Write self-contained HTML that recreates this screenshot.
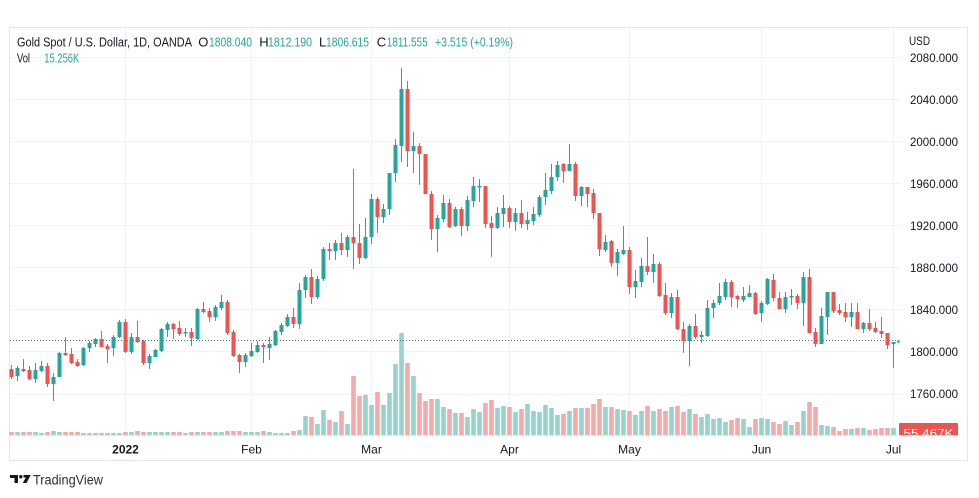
<!DOCTYPE html>
<html><head><meta charset="utf-8"><style>
html,body{margin:0;padding:0;background:#fff;}
svg{display:block;font-family:"Liberation Sans",Arial,sans-serif;}
</style></head><body>
<svg width="979" height="498" viewBox="0 0 979 498" xmlns="http://www.w3.org/2000/svg">
<defs><clipPath id="pane"><rect x="0" y="0" width="979" height="435"/></clipPath></defs>
<rect x="0" y="0" width="979" height="498" fill="#fff"/>
<!-- frame -->
<rect x="9.5" y="27.5" width="958" height="433" fill="none" stroke="#e3e5ea" stroke-width="1"/>
<!-- horizontal grid -->
<g stroke="#f0f3fa" stroke-width="1">
<line x1="10" y1="57.5" x2="901" y2="57.5"/>
<line x1="10" y1="99.5" x2="901" y2="99.5"/>
<line x1="10" y1="141.5" x2="901" y2="141.5"/>
<line x1="10" y1="183.5" x2="901" y2="183.5"/>
<line x1="10" y1="225.5" x2="901" y2="225.5"/>
<line x1="10" y1="267.5" x2="901" y2="267.5"/>
<line x1="10" y1="309.5" x2="901" y2="309.5"/>
<line x1="10" y1="351.5" x2="901" y2="351.5"/>
<line x1="10" y1="394.5" x2="901" y2="394.5"/>
<line x1="125.5" y1="28" x2="125.5" y2="435"/>
<line x1="251.5" y1="28" x2="251.5" y2="435"/>
<line x1="371.5" y1="28" x2="371.5" y2="435"/>
<line x1="509.5" y1="28" x2="509.5" y2="435"/>
<line x1="629.5" y1="28" x2="629.5" y2="435"/>
<line x1="761.5" y1="28" x2="761.5" y2="435"/>
<line x1="893.5" y1="28" x2="893.5" y2="435"/>
</g>
<!-- time axis line -->
<line x1="10" y1="435.5" x2="958" y2="435.5" stroke="#e6e8ee" stroke-width="1"/>

<!-- volumes -->
<path fill="#97d3cd" d="M15.2 432h4.6V435h-4.6zM33.2 432h4.6V435h-4.6zM39.2 433h4.6V435h-4.6zM51.2 431h4.6V435h-4.6zM57.2 432h4.6V435h-4.6zM81.2 433h4.6V435h-4.6zM87.2 433h4.6V435h-4.6zM93.2 433h4.6V435h-4.6zM111.2 433h4.6V435h-4.6zM117.2 433h4.6V435h-4.6zM129.2 432h4.6V435h-4.6zM147.2 432h4.6V435h-4.6zM153.2 432h4.6V435h-4.6zM159.2 432h4.6V435h-4.6zM165.2 432h4.6V435h-4.6zM183.2 433h4.6V435h-4.6zM195.2 432h4.6V435h-4.6zM213.2 432h4.6V435h-4.6zM219.2 432h4.6V435h-4.6zM243.2 432h4.6V435h-4.6zM249.2 432h4.6V435h-4.6zM255.2 432h4.6V435h-4.6zM267.2 432h4.6V435h-4.6zM273.2 433h4.6V435h-4.6zM279.2 433h4.6V435h-4.6zM285.2 433h4.6V435h-4.6zM297.2 430h4.6V435h-4.6zM303.2 416h4.6V435h-4.6zM315.2 424h4.6V435h-4.6zM321.2 410h4.6V435h-4.6zM333.2 422h4.6V435h-4.6zM345.2 424h4.6V435h-4.6zM363.2 395h4.6V435h-4.6zM369.2 405h4.6V435h-4.6zM381.2 405h4.6V435h-4.6zM387.2 393h4.6V435h-4.6zM393.2 364h4.6V435h-4.6zM399.2 333h4.6V435h-4.6zM411.2 376h4.6V435h-4.6zM435.2 399h4.6V435h-4.6zM441.2 407h4.6V435h-4.6zM453.2 413h4.6V435h-4.6zM465.2 417h4.6V435h-4.6zM471.2 409h4.6V435h-4.6zM477.2 412h4.6V435h-4.6zM495.2 408h4.6V435h-4.6zM501.2 406h4.6V435h-4.6zM513.2 412h4.6V435h-4.6zM525.2 404h4.6V435h-4.6zM531.2 411h4.6V435h-4.6zM537.2 412h4.6V435h-4.6zM543.2 405h4.6V435h-4.6zM549.2 408h4.6V435h-4.6zM555.2 415h4.6V435h-4.6zM567.2 411h4.6V435h-4.6zM579.2 408h4.6V435h-4.6zM603.2 407h4.6V435h-4.6zM615.2 409h4.6V435h-4.6zM621.2 410h4.6V435h-4.6zM633.2 415h4.6V435h-4.6zM639.2 411h4.6V435h-4.6zM651.2 411h4.6V435h-4.6zM669.2 407h4.6V435h-4.6zM687.2 409h4.6V435h-4.6zM699.2 417h4.6V435h-4.6zM705.2 414h4.6V435h-4.6zM711.2 419h4.6V435h-4.6zM717.2 418h4.6V435h-4.6zM723.2 422h4.6V435h-4.6zM741.2 419h4.6V435h-4.6zM747.2 427h4.6V435h-4.6zM759.2 418h4.6V435h-4.6zM765.2 419h4.6V435h-4.6zM783.2 421h4.6V435h-4.6zM789.2 425h4.6V435h-4.6zM801.2 411h4.6V435h-4.6zM819.2 425h4.6V435h-4.6zM825.2 426h4.6V435h-4.6zM849.2 429h4.6V435h-4.6zM861.2 428h4.6V435h-4.6zM891.2 428h4.6V435h-4.6z"/>
<path fill="#f4aaa8" d="M9.2 432h4.6V435h-4.6zM21.2 432h4.6V435h-4.6zM27.2 432h4.6V435h-4.6zM45.2 432h4.6V435h-4.6zM63.2 432h4.6V435h-4.6zM69.2 432h4.6V435h-4.6zM75.2 432h4.6V435h-4.6zM99.2 433h4.6V435h-4.6zM105.2 433h4.6V435h-4.6zM123.2 432h4.6V435h-4.6zM135.2 431h4.6V435h-4.6zM141.2 432h4.6V435h-4.6zM171.2 432h4.6V435h-4.6zM177.2 432h4.6V435h-4.6zM189.2 432h4.6V435h-4.6zM201.2 432h4.6V435h-4.6zM207.2 432h4.6V435h-4.6zM225.2 431h4.6V435h-4.6zM231.2 431h4.6V435h-4.6zM237.2 431h4.6V435h-4.6zM261.2 431h4.6V435h-4.6zM291.2 431h4.6V435h-4.6zM309.2 417h4.6V435h-4.6zM327.2 420h4.6V435h-4.6zM339.2 411h4.6V435h-4.6zM351.2 376h4.6V435h-4.6zM357.2 396h4.6V435h-4.6zM375.2 392h4.6V435h-4.6zM405.2 363h4.6V435h-4.6zM417.2 393h4.6V435h-4.6zM423.2 401h4.6V435h-4.6zM429.2 399h4.6V435h-4.6zM447.2 409h4.6V435h-4.6zM459.2 413h4.6V435h-4.6zM483.2 403h4.6V435h-4.6zM489.2 400h4.6V435h-4.6zM507.2 407h4.6V435h-4.6zM519.2 409h4.6V435h-4.6zM561.2 414h4.6V435h-4.6zM573.2 408h4.6V435h-4.6zM585.2 408h4.6V435h-4.6zM591.2 404h4.6V435h-4.6zM597.2 399h4.6V435h-4.6zM609.2 407h4.6V435h-4.6zM627.2 411h4.6V435h-4.6zM645.2 406h4.6V435h-4.6zM657.2 409h4.6V435h-4.6zM663.2 411h4.6V435h-4.6zM675.2 406h4.6V435h-4.6zM681.2 412h4.6V435h-4.6zM693.2 414h4.6V435h-4.6zM729.2 420h4.6V435h-4.6zM735.2 418h4.6V435h-4.6zM753.2 419h4.6V435h-4.6zM771.2 422h4.6V435h-4.6zM777.2 424h4.6V435h-4.6zM795.2 422h4.6V435h-4.6zM807.2 402h4.6V435h-4.6zM813.2 407h4.6V435h-4.6zM831.2 427h4.6V435h-4.6zM837.2 431h4.6V435h-4.6zM843.2 429h4.6V435h-4.6zM855.2 428h4.6V435h-4.6zM867.2 430h4.6V435h-4.6zM873.2 429h4.6V435h-4.6zM879.2 428h4.6V435h-4.6zM885.2 428h4.6V435h-4.6z"/>

<!-- last price dotted line -->
<line x1="10" y1="340.5" x2="899" y2="340.5" stroke="#4f6f6c" stroke-width="1" stroke-dasharray="1 2"/>

<!-- teal candles -->
<path fill="#26a69a" d="M17 366h1V381h-1zM35 363h1V383h-1zM41 361h1V372h-1zM53 373h1V401h-1zM59 352h1V377h-1zM83 347h1V366h-1zM89 341h1V352h-1zM95 338h1V347h-1zM113 335h1V356h-1zM119 320h1V338h-1zM131 333h1V354h-1zM149 354h1V369h-1zM155 349h1V357h-1zM161 328h1V352h-1zM167 322h1V337h-1zM185 328h1V337h-1zM197 308h1V340h-1zM215 305h1V321h-1zM221 295h1V310h-1zM245 353h1V367h-1zM251 343h1V357h-1zM257 341h1V353h-1zM269 337h1V360h-1zM275 330h1V346h-1zM281 323h1V335h-1zM287 314h1V327h-1zM299 283h1V329h-1zM305 275h1V298h-1zM317 276h1V299h-1zM323 247h1V281h-1zM335 240h1V260h-1zM347 235h1V257h-1zM365 218h1V259h-1zM371 194h1V244h-1zM383 204h1V223h-1zM389 173h1V215h-1zM395 139h1V182h-1zM401 68h1V162h-1zM413 132h1V173h-1zM437 215h1V252h-1zM443 195h1V222h-1zM455 207h1V227h-1zM467 196h1V231h-1zM473 177h1V207h-1zM479 179h1V202h-1zM497 207h1V229h-1zM503 195h1V227h-1zM515 208h1V231h-1zM527 212h1V230h-1zM533 207h1V225h-1zM539 195h1V217h-1zM545 173h1V205h-1zM551 164h1V194h-1zM557 161h1V181h-1zM569 144h1V171h-1zM581 186h1V206h-1zM605 235h1V252h-1zM617 249h1V276h-1zM623 226h1V255h-1zM635 270h1V298h-1zM641 258h1V287h-1zM653 254h1V283h-1zM671 293h1V318h-1zM689 324h1V366h-1zM701 331h1V343h-1zM707 300h1V337h-1zM713 300h1V318h-1zM719 283h1V305h-1zM725 279h1V300h-1zM743 287h1V302h-1zM749 285h1V297h-1zM761 301h1V322h-1zM767 278h1V305h-1zM785 292h1V313h-1zM791 289h1V305h-1zM803 272h1V326h-1zM821 308h1V344h-1zM827 292h1V335h-1zM851 303h1V327h-1zM863 322h1V333h-1zM893 342h1V368h-1z
M15.5 368h4V376h-4zM33.5 370h4V379h-4zM39.5 366h4V371h-4zM51.5 377h4V384h-4zM57.5 353h4V377h-4zM81.5 348h4V365h-4zM87.5 343h4V348h-4zM93.5 339h4V344h-4zM111.5 337h4V348h-4zM117.5 322h4V337h-4zM129.5 337h4V352h-4zM147.5 356h4V363h-4zM153.5 350h4V357h-4zM159.5 329h4V351h-4zM165.5 324h4V330h-4zM183.5 332h4V333.5h-4zM195.5 309h4V339h-4zM213.5 307h4V317h-4zM219.5 302h4V308h-4zM243.5 355h4V362h-4zM249.5 351h4V356h-4zM255.5 345h4V352h-4zM267.5 344h4V348h-4zM273.5 331h4V345h-4zM279.5 325h4V332h-4zM285.5 317h4V326h-4zM297.5 290h4V324h-4zM303.5 277h4V290h-4zM315.5 279h4V297h-4zM321.5 249h4V279h-4zM333.5 243h4V251h-4zM345.5 237h4V250h-4zM363.5 237h4V258h-4zM369.5 199h4V237h-4zM381.5 209h4V217h-4zM387.5 173h4V209h-4zM393.5 145h4V173h-4zM399.5 89h4V146h-4zM411.5 146h4V151h-4zM435.5 218h4V229h-4zM441.5 203h4V219h-4zM453.5 209h4V226h-4zM465.5 200h4V226h-4zM471.5 186h4V201h-4zM477.5 186h4V187.5h-4zM495.5 213h4V228h-4zM501.5 208h4V214h-4zM513.5 213h4V222h-4zM525.5 220h4V224h-4zM531.5 214h4V221h-4zM537.5 197h4V215h-4zM543.5 190h4V197h-4zM549.5 177h4V191h-4zM555.5 165h4V177h-4zM567.5 164h4V171h-4zM579.5 187h4V196h-4zM603.5 242h4V250h-4zM615.5 252h4V263h-4zM621.5 250h4V254h-4zM633.5 281h4V287h-4zM639.5 266h4V282h-4zM651.5 264h4V272h-4zM669.5 297h4V313h-4zM687.5 326h4V341h-4zM699.5 335h4V337h-4zM705.5 308h4V336h-4zM711.5 303h4V308h-4zM717.5 296h4V303h-4zM723.5 282h4V297h-4zM741.5 296h4V300h-4zM747.5 293h4V297h-4zM759.5 303h4V313h-4zM765.5 279h4V304h-4zM783.5 297h4V309h-4zM789.5 296h4V297.5h-4zM801.5 277h4V303h-4zM819.5 316h4V344h-4zM825.5 292h4V317h-4zM849.5 312h4V317h-4zM861.5 323h4V329h-4zM891.5 342h4V344h-4zM897.5 340h2V343h-2z"/>
<!-- red candles -->
<path fill="#ef5350" d="M11 365h1V379h-1zM23 359h1V372h-1zM29 366h1V380h-1zM47 363h1V387h-1zM65 337h1V356h-1zM71 348h1V364h-1zM77 359h1V367h-1zM101 331h1V347h-1zM107 344h1V363h-1zM125 319h1V353h-1zM137 321h1V343h-1zM143 340h1V365h-1zM173 323h1V339h-1zM179 321h1V336h-1zM191 328h1V346h-1zM203 302h1V313h-1zM209 308h1V322h-1zM227 300h1V335h-1zM233 330h1V357h-1zM239 354h1V373h-1zM263 343h1V363h-1zM293 308h1V328h-1zM311 269h1V304h-1zM329 243h1V260h-1zM341 233h1V255h-1zM353 169h1V269h-1zM359 224h1V264h-1zM377 197h1V233h-1zM407 81h1V167h-1zM419 143h1V185h-1zM425 154h1V194h-1zM431 191h1V240h-1zM449 199h1V228h-1zM461 207h1V236h-1zM485 186h1V228h-1zM491 216h1V257h-1zM509 206h1V228h-1zM521 200h1V228h-1zM563 163h1V183h-1zM575 162h1V201h-1zM587 187h1V207h-1zM593 189h1V219h-1zM599 213h1V256h-1zM611 240h1V267h-1zM629 247h1V294h-1zM647 237h1V275h-1zM659 262h1V297h-1zM665 283h1V315h-1zM677 290h1V330h-1zM683 322h1V353h-1zM695 314h1V339h-1zM731 280h1V307h-1zM737 295h1V308h-1zM755 292h1V315h-1zM773 274h1V301h-1zM779 292h1V309h-1zM797 294h1V309h-1zM809 269h1V333h-1zM815 328h1V347h-1zM833 292h1V313h-1zM839 304h1V315h-1zM845 303h1V322h-1zM857 303h1V329h-1zM869 309h1V331h-1zM875 322h1V333h-1zM881 317h1V338h-1zM887 333h1V349h-1z
M9.5 369h4V377h-4zM21.5 369h4V371h-4zM27.5 370h4V379h-4zM45.5 366h4V384h-4zM63.5 353h4V355h-4zM69.5 354h4V363h-4zM75.5 362h4V366h-4zM99.5 339h4V347h-4zM105.5 346h4V349h-4zM123.5 322h4V352h-4zM135.5 337h4V342h-4zM141.5 341h4V363h-4zM171.5 324h4V329h-4zM177.5 328h4V334h-4zM189.5 332h4V338h-4zM201.5 309h4V312h-4zM207.5 311h4V317h-4zM225.5 302h4V333h-4zM231.5 332h4V356h-4zM237.5 355h4V362h-4zM261.5 345h4V347h-4zM291.5 317h4V324h-4zM309.5 277h4V297h-4zM327.5 249h4V251h-4zM339.5 243h4V250h-4zM351.5 237h4V243h-4zM357.5 243h4V258h-4zM375.5 199h4V217h-4zM405.5 89h4V151h-4zM417.5 146h4V154h-4zM423.5 154h4V194h-4zM429.5 194h4V229h-4zM447.5 203h4V227h-4zM459.5 209h4V226h-4zM483.5 186h4V224h-4zM489.5 223h4V228h-4zM507.5 208h4V222h-4zM519.5 213h4V224h-4zM561.5 164h4V171h-4zM573.5 164h4V196h-4zM585.5 187h4V194h-4zM591.5 193h4V213h-4zM597.5 213h4V249h-4zM609.5 241h4V263h-4zM627.5 250h4V287h-4zM645.5 266h4V272h-4zM657.5 264h4V296h-4zM663.5 295h4V313h-4zM675.5 297h4V329h-4zM681.5 329h4V341h-4zM693.5 326h4V337h-4zM729.5 282h4V297h-4zM735.5 296h4V299h-4zM753.5 293h4V314h-4zM771.5 280h4V298h-4zM777.5 298h4V309h-4zM795.5 296h4V303h-4zM807.5 277h4V333h-4zM813.5 332h4V344h-4zM831.5 292h4V311h-4zM837.5 310h4V313h-4zM843.5 312h4V317h-4zM855.5 312h4V329h-4zM867.5 323h4V329h-4zM873.5 328h4V332h-4zM879.5 331h4V334h-4zM885.5 333h4V345h-4z"/>

<!-- header legend -->
<g font-size="13" fill="#131722">
<text x="17" y="46.7" textLength="175" lengthAdjust="spacingAndGlyphs">Gold Spot / U.S. Dollar, 1D, OANDA</text>
<text x="198.3" y="46.7">O</text>
<text x="209" y="46.7" fill="#26a69a" textLength="43" lengthAdjust="spacingAndGlyphs">1808.040</text>
<text x="259.3" y="46.7">H</text>
<text x="268" y="46.7" fill="#26a69a" textLength="44" lengthAdjust="spacingAndGlyphs">1812.190</text>
<text x="319" y="46.7">L</text>
<text x="326" y="46.7" fill="#26a69a" textLength="43" lengthAdjust="spacingAndGlyphs">1806.615</text>
<text x="376.7" y="46.7">C</text>
<text x="386.7" y="46.7" fill="#26a69a" textLength="41" lengthAdjust="spacingAndGlyphs">1811.555</text>
<text x="435" y="46.7" fill="#26a69a" textLength="78" lengthAdjust="spacingAndGlyphs">+3.515 (+0.19%)</text>
<text x="17" y="62.5" textLength="13" lengthAdjust="spacingAndGlyphs">Vol</text>
<text x="44.3" y="62.5" fill="#26a69a" textLength="35" lengthAdjust="spacingAndGlyphs">15.256K</text>
</g>

<!-- price axis -->
<g font-size="12" fill="#131722">
<text x="909" y="45" font-size="11.5" textLength="21" lengthAdjust="spacingAndGlyphs">USD</text>
<text x="910" y="62" textLength="48" lengthAdjust="spacingAndGlyphs">2080.000</text>
<text x="910" y="104" textLength="48" lengthAdjust="spacingAndGlyphs">2040.000</text>
<text x="910" y="146" textLength="48" lengthAdjust="spacingAndGlyphs">2000.000</text>
<text x="910" y="188" textLength="48" lengthAdjust="spacingAndGlyphs">1960.000</text>
<text x="910" y="230" textLength="48" lengthAdjust="spacingAndGlyphs">1920.000</text>
<text x="910" y="272" textLength="48" lengthAdjust="spacingAndGlyphs">1880.000</text>
<text x="910" y="314" textLength="48" lengthAdjust="spacingAndGlyphs">1840.000</text>
<text x="910" y="356" textLength="48" lengthAdjust="spacingAndGlyphs">1800.000</text>
<text x="910" y="398" textLength="48" lengthAdjust="spacingAndGlyphs">1760.000</text>
</g>
<!-- volume label -->
<g clip-path="url(#pane)">
<rect x="899" y="423" width="59" height="16" rx="1" fill="#ef5350"/>
<text x="928.5" y="437.5" font-size="12" fill="#fff" text-anchor="middle" textLength="50" lengthAdjust="spacingAndGlyphs">55.467K</text>
</g>

<!-- time axis labels -->
<g font-size="12" fill="#131722" text-anchor="middle">
<text x="125.5" y="453.5" font-weight="bold">2022</text>
<text x="251.5" y="453.5">Feb</text>
<text x="371.5" y="453.5">Mar</text>
<text x="509.5" y="453.5">Apr</text>
<text x="629.5" y="453.5">May</text>
<text x="761.5" y="453.5">Jun</text>
<text x="893.5" y="453.5">Jul</text>
</g>

<!-- TradingView logo -->
<g fill="#131722">
<rect x="10" y="475" width="8" height="3"/>
<rect x="14.5" y="475" width="3.5" height="8"/>
<circle cx="20.8" cy="476.7" r="1.7"/>
<polygon points="23.5,475 30.7,475 26.5,483 22.8,483 25.8,477.5 23.5,477.5"/>
<text x="33" y="484.5" font-size="13.5" fill="#2a2e39" textLength="70" lengthAdjust="spacingAndGlyphs">TradingView</text>
</g>
</svg>
</body></html>
